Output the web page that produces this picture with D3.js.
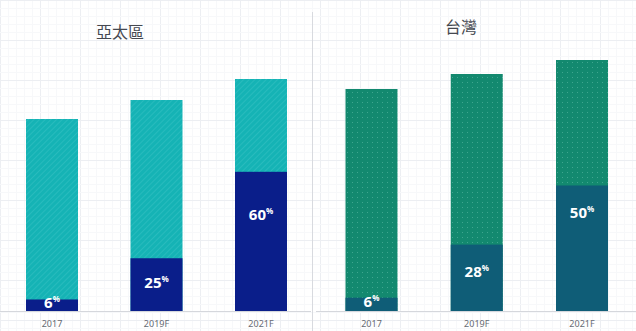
<!DOCTYPE html>
<html>
<head>
<meta charset="utf-8">
<script src="https://cdn.jsdelivr.net/npm/d3@7"></script>
<style>
  html, body { margin: 0; padding: 0; background: #fff; }
  svg { display: block; }
</style>
</head>
<body>
<svg id="chart" width="636" height="331"></svg>
<script>
// Years shown on each panel
const years = ["2017", "2019F", "2021F"];

// Panel titles
const regions = ["亞太區", "台灣"];

// Total bar size per year (relative units)
const totalAPAC = [192, 211, 232];
const totalTW = [222, 237, 251];

// Share of each bar (percent) shown in the dark segment
const shareAPAC = [6, 25, 60];
const shareTW = [6, 28, 50];

const W = 636, H = 331;
const svg = d3.select("#chart");
const defs = svg.append("defs");

// faint graph-paper background
const grid = svg.append("g");
for (let x = 0; x <= W; x += 8) {
  grid.append("line").attr("x1", x + 0.5).attr("x2", x + 0.5).attr("y1", 0).attr("y2", H)
    .attr("stroke", x % 40 === 0 ? "#eceef2" : "#f7f8fa").attr("stroke-width", 1);
}
for (let y = 0; y <= H; y += 8) {
  grid.append("line").attr("y1", y + 0.5).attr("y2", y + 0.5).attr("x1", 0).attr("x2", W)
    .attr("stroke", y % 40 === 0 ? "#eceef2" : "#f7f8fa").attr("stroke-width", 1);
}

// diagonal hatch fill for the regional bars
const hatch = defs.append("pattern").attr("id", "hatch")
  .attr("patternUnits", "userSpaceOnUse").attr("width", 4).attr("height", 4)
  .attr("patternTransform", "rotate(45)");
hatch.append("rect").attr("width", 4).attr("height", 4).attr("fill", "#15b3b5");
hatch.append("line").attr("x1", 0).attr("x2", 0).attr("y1", 0).attr("y2", 4)
  .attr("stroke", "#35c0c2").attr("stroke-width", 1.2);

// dotted fill for the Taiwan bars
const dots = defs.append("pattern").attr("id", "dots")
  .attr("patternUnits", "userSpaceOnUse").attr("width", 5).attr("height", 5);
dots.append("rect").attr("width", 5).attr("height", 5).attr("fill", "#13896f");
dots.append("rect").attr("x", 2).attr("y", 2).attr("width", 1).attr("height", 1).attr("fill", "#3fa68f");

// shared value scale
const y = d3.scaleLinear().domain([0, 300]).range([311, 11]);

const panels = [
  { title: regions[0], totals: totalAPAC, shares: shareAPAC, x0: 0, x1: 312,
    c0: 52, c1: 261, fill: "url(#hatch)", dark: "#0a1e8a", titleX: 120, titleY: 38, maxOff: 43 },
  { title: regions[1], totals: totalTW, shares: shareTW, x0: 316, x1: 636,
    c0: 371.5, c1: 582, fill: "url(#dots)", dark: "#0f5d77", titleX: 461, titleY: 33, maxOff: 27 }
];

// divider between panels
svg.append("line").attr("x1", 312.5).attr("x2", 312.5).attr("y1", 12).attr("y2", H)
  .attr("stroke", "#d8dadf").attr("stroke-width", 1);

panels.forEach(p => {
  const g = svg.append("g");
  const xc = d3.scalePoint().domain(years).range([p.c0, p.c1]);
  const bw = 52;

  g.append("text").attr("x", p.titleX).attr("y", p.titleY)
    .attr("text-anchor", "middle")
    .attr("font-family", "'Noto Sans CJK TC', 'Noto Sans', sans-serif")
    .attr("font-size", 16).attr("fill", "#454850").text(p.title);

  // baseline
  g.append("line").attr("x1", p.x0).attr("x2", p.x1 - (p.x0 ? 0 : 1)).attr("y1", 311.5).attr("y2", 311.5)
    .attr("stroke", "#d5d7dc").attr("stroke-width", 1);

  years.forEach((yr, i) => {
    const cx = xc(yr);
    const total = p.totals[i];
    const share = p.shares[i];
    const part = total * share / 100;
    g.append("rect").attr("x", cx - bw / 2).attr("width", bw)
      .attr("y", y(total)).attr("height", y(0) - y(total)).attr("fill", p.fill);
    g.append("rect").attr("x", cx - bw / 2).attr("width", bw)
      .attr("y", y(part)).attr("height", y(0) - y(part)).attr("fill", p.dark);

    const h = y(0) - y(part);
    const ly = y(part) + Math.min(h / 2 - 2, p.maxOff) + 5;
    const t = g.append("text").attr("x", cx).attr("y", ly).attr("text-anchor", "middle")
      .attr("font-family", "'Open Sans', 'Noto Sans', sans-serif")
      .attr("font-weight", 700).attr("fill", "#fff");
    t.append("tspan").attr("font-size", 15).text(share);
    t.append("tspan").attr("font-size", 8).attr("dy", -6).text("%");

    g.append("text").attr("x", cx).attr("y", 327).attr("text-anchor", "middle")
      .attr("font-family", "'Noto Sans', sans-serif").attr("font-size", 9)
      .attr("fill", "#666a72").text(yr);
  });
});
</script>
</body>
</html>
